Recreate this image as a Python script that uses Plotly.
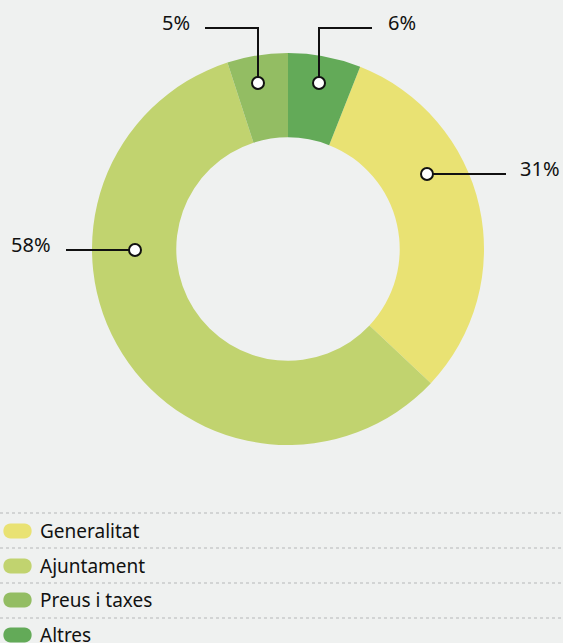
import plotly.graph_objects as go

W, H = 563, 643

labels = ["Generalitat", "Ajuntament", "Preus i taxes", "Altres"]
values = [31, 58, 5, 6]
colors = ["#e9e273", "#c1d36f", "#93bd63", "#63aa58"]
pct_text = ["31%", "58%", "5%", "6%"]

BG = "#eff1f0"
FONT = "Noto Sans"

def px(x):
    return x / W

def py(y):
    return 1 - y / H

# pie geometry (pixels)
cx, cy, R = 288, 249, 196
start_rotation = values[3] / sum(values) * 360  # Altres starts at 12 o'clock

fig = go.Figure(go.Pie(
    labels=labels, values=values, sort=False, direction="clockwise",
    rotation=start_rotation, hole=0.57,
    marker=dict(colors=colors, line=dict(width=0)),
    textinfo="none", hoverinfo="label+percent", showlegend=False,
    domain=dict(x=[px(cx - R), px(cx + R)], y=[py(cy + R), py(cy - R)]),
))

shapes = []
annotations = []

# leader lines: (label index, polyline points, text position)
leaders = [
    (0, [(506, 174), (427, 174)], (540, 168)),
    (1, [(66, 250), (135, 250)], (31, 244)),
    (2, [(205, 28), (258, 28), (258, 83)], (176, 22)),
    (3, [(372, 28), (319, 28), (319, 83)], (402, 22)),
]
for i, pts, (tx, ty) in leaders:
    path = "M " + " L ".join(f"{px(x)},{py(y)}" for x, y in pts)
    shapes.append(dict(type="path", xref="paper", yref="paper", path=path,
                       line=dict(color="#111111", width=2)))
    dx, dy = pts[-1]
    r = 6
    shapes.append(dict(type="circle", xref="paper", yref="paper",
                       x0=px(dx - r), x1=px(dx + r), y0=py(dy + r), y1=py(dy - r),
                       fillcolor="white", line=dict(color="#111111", width=2)))
    annotations.append(dict(text=pct_text[i], x=px(tx), y=py(ty), xref="paper", yref="paper",
                            showarrow=False, xanchor="center", yanchor="middle",
                            font=dict(family=FONT, size=20, color="#111111")))

# custom legend
row_lines = [513, 548, 583, 618]
row_centers = [531, 566, 600, 635]
for i, lab in enumerate(labels):
    yl = row_lines[i]
    shapes.append(dict(type="line", xref="paper", yref="paper", x0=0, x1=1,
                       y0=py(yl), y1=py(yl), line=dict(color="#b5b8b7", width=1.2, dash="dot")))
    yc = row_centers[i]
    h2 = 7.5
    x0, x1 = 3, 32
    path = (f"M {px(x0 + h2)},{py(yc - h2)} L {px(x1 - h2)},{py(yc - h2)} "
            f"C {px(x1 + 2)},{py(yc - h2)} {px(x1 + 2)},{py(yc + h2)} {px(x1 - h2)},{py(yc + h2)} "
            f"L {px(x0 + h2)},{py(yc + h2)} "
            f"C {px(x0 - 2)},{py(yc + h2)} {px(x0 - 2)},{py(yc - h2)} {px(x0 + h2)},{py(yc - h2)} Z")
    shapes.append(dict(type="path", xref="paper", yref="paper", path=path,
                       fillcolor=colors[i], line=dict(width=0)))
    annotations.append(dict(text=lab, x=px(38), y=py(yc), xref="paper", yref="paper",
                            showarrow=False, xanchor="left", yanchor="middle",
                            font=dict(family=FONT, size=19, color="#111111")))

fig.update_layout(
    width=W, height=H, margin=dict(l=0, r=0, t=0, b=0),
    paper_bgcolor=BG, plot_bgcolor=BG,
    shapes=shapes, annotations=annotations,
)

fig.write_html(
    "out.html",
    config={"displayModeBar": False},
    post_script="document.body.style.margin='0';document.body.style.overflow='hidden';"
                "document.body.style.background='" + BG + "';",
)
